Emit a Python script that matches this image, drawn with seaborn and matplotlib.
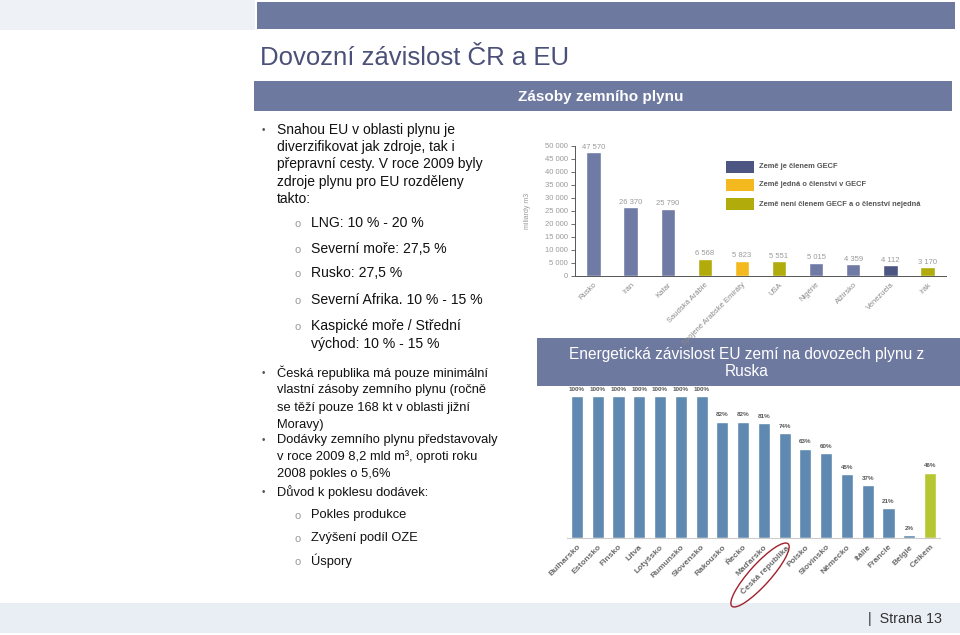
import matplotlib
matplotlib.use("Agg")
import matplotlib.pyplot as plt
from matplotlib.patches import Rectangle, Ellipse
import seaborn as sns
import pandas as pd

# ---------------- data ----------------
reserve_countries = ["Rusko", "Irán", "Katar", "Saudská Arábie", "Spojené Arabské Emiráty",
                     "USA", "Nigérie", "Alžírsko", "Venezuela", "Irák"]
reserve_values = [47570, 26370, 25790, 6568, 5823, 5551, 5015, 4359, 4112, 3170]
reserve_status = ["member", "member", "member", "no", "negotiating",
                  "no", "member", "member", "member_dark", "no"]
reserve_yticks = [0, 5000, 10000, 15000, 20000, 25000, 30000, 35000, 40000, 45000, 50000]
legend_labels = ["Země je členem GECF", "Země jedná o členství v GECF",
                 "Země není členem GECF a o členství nejedná"]

dep_countries = ["Bulharsko", "Estonsko", "Finsko", "Litva", "Lotyšsko", "Rumunsko",
                 "Slovensko", "Rakousko", "Řecko", "Maďarsko", "Česká republika",
                 "Polsko", "Slovinsko", "Německo", "Itálie", "Francie", "Belgie", "Celkem"]
dep_values = [100, 100, 100, 100, 100, 100, 100, 82, 82, 81, 74, 63, 60, 45, 37, 21, 2, 46]

# ---------------- style ----------------
sns.set_style("white")
plt.rcParams['font.family'] = ['Liberation Sans', 'DejaVu Sans']

W, H = 960, 635
fig = plt.figure(figsize=(W / 100, H / 100), dpi=100)

SLATE = "#6e799f"
status_colors = {"member": "#6f7ba5", "member_dark": "#4d5682",
                 "negotiating": "#f5b920", "no": "#b2ab0c"}

def ax_rect(x0, x1, y_top, y_bot):
    return [x0 / W, 1 - y_bot / H, (x1 - x0) / W, (y_bot - y_top) / H]

# background overlay (pixel coordinates)
bg = fig.add_axes([0, 0, 1, 1], zorder=0)
bg.set_xlim(0, W); bg.set_ylim(H, 0); bg.axis("off")

bg.add_patch(Rectangle((0, 0), 255, 30, color="#eef2f7", lw=0))
bg.add_patch(Rectangle((257, 2), 698, 27, color=SLATE, lw=0))
bg.add_patch(Rectangle((0, 603), 960, 30, color="#e9eef4", lw=0))
bg.text(868, 619, "|  Strana 13", fontsize=10.3, color="#333333", va="center", ha="left")

bg.text(260, 58, "Dovozní závislost ČR a EU", fontsize=18.5, color="#4a5078",
        va="center", ha="left")

bg.add_patch(Rectangle((254, 81), 698, 30, color=SLATE, lw=0))
bg.text(601, 97, "Zásoby zemního plynu", fontsize=11, color="white", weight="bold",
        va="center", ha="center")

bg.add_patch(Rectangle((537, 338), 423, 48, color=SLATE, lw=0))
bg.text(747, 363, "Energetická závislost EU zemí na dovozech plynu z\nRuska", fontsize=11.2,
        color="white", va="center", ha="center", linespacing=1.2)

# left text
TXT = "#111111"
main1 = [(130, "Snahou EU v oblasti plynu je"), (147, "diverzifikovat jak zdroje, tak i"),
         (164, "přepravní cesty. V roce 2009 byly"), (182, "zdroje plynu pro EU rozděleny"),
         (199, "takto:")]
sub1 = [(223, "LNG: 10 % - 20 %"), (249, "Severní moře: 27,5 %"), (273, "Rusko: 27,5 %"),
        (300, "Severní Afrika. 10 % - 15 %"), (326, "Kaspické moře / Střední"),
        (344, "východ: 10 % - 15 %")]
main2 = [(373, "Česká republika má pouze minimální"), (390, "vlastní zásoby zemního plynu (ročně"),
         (408, "se těží pouze 168 kt v oblasti jižní"), (425, "Moravy)"),
         (440, "Dodávky zemního plynu představovaly"), (457, "v roce 2009 8,2 mld m³, oproti roku"),
         (474, "2008 pokles o 5,6%"), (492, "Důvod k poklesu dodávek:")]
sub2 = [(515, "Pokles produkce"), (538, "Zvýšení podíl OZE"), (561, "Úspory")]
bullet_first = [130, 373, 440, 492]
sub_first = [223, 249, 273, 300, 326, 515, 538, 561]

for y, t in main1:
    bg.text(277, y, t, fontsize=10, color=TXT, va="center", ha="left")
for y, t in sub1:
    bg.text(311, y, t, fontsize=10.1, color=TXT, va="center", ha="left")
for y, t in main2:
    bg.text(277, y, t, fontsize=9.3, color=TXT, va="center", ha="left")
for y, t in sub2:
    bg.text(311, y, t, fontsize=9.3, color=TXT, va="center", ha="left")
for y in bullet_first:
    bg.text(263, y, "•", fontsize=7, color="#555555", va="center", ha="center")
for y in sub_first:
    bg.text(298, y + 1, "o", fontsize=8, color="#999999", va="center", ha="center")

# ---------------- top chart: reserves ----------------
ax1 = fig.add_axes(ax_rect(575, 946, 145.7, 275.7), zorder=2)
ax1.patch.set_alpha(0)
df1 = pd.DataFrame({"country": reserve_countries, "value": reserve_values,
                    "status": reserve_status})
sns.barplot(data=df1, x="country", y="value", hue="status", palette=status_colors,
            dodge=False, width=0.39, legend=False, ax=ax1, saturation=1)
ax1.set_xlim(-0.5, len(reserve_countries) - 0.5)
ax1.set_ylim(0, 50000)
ax1.set_yticks(reserve_yticks)
ax1.set_yticklabels([f"{v:,}".replace(",", " ") for v in reserve_yticks])
ax1.tick_params(axis="y", labelsize=5.5, labelcolor="#9a9a9a", length=3, width=0.6,
                color="#555555", pad=2, left=True)
ax1.tick_params(axis="x", labelsize=5.5, labelcolor="#8a8a8a", length=0, pad=4)
ax1.set_xticks(range(len(reserve_countries)))
ax1.set_xticklabels(reserve_countries, rotation=45, ha="right", rotation_mode="anchor")
for s in ["top", "right"]:
    ax1.spines[s].set_visible(False)
for s in ["left", "bottom"]:
    ax1.spines[s].set_color("#555555")
    ax1.spines[s].set_linewidth(0.7)
ax1.set_xlabel("")
ax1.set_ylabel("miliardy m3", fontsize=5, color="#9a9a9a", labelpad=10)
for i, v in enumerate(reserve_values):
    ax1.text(i, v + 500, f"{v:,}".replace(",", " "), fontsize=5.5, color="#9a9a9a",
             ha="center", va="bottom")

# legend
leg_items = [("member_dark", legend_labels[0], 166.7), ("negotiating", legend_labels[1], 185),
             ("no", legend_labels[2], 204)]
for key, lab, yc in leg_items:
    bg.add_patch(Rectangle((725.7, yc - 6), 28.6, 12, color=status_colors[key], lw=0))
    bg.text(759, yc, lab, fontsize=5.4, color="#555555", weight="bold", va="center",
            ha="left")

# ---------------- bottom chart: dependence ----------------
ax2 = fig.add_axes(ax_rect(566.6, 940.4, 538 - 142 * 1.1, 538), zorder=2)
ax2.patch.set_alpha(0)
dep_colors = ["#5f89b0"] * (len(dep_countries) - 1) + ["#b7c633"]
sns.barplot(x=dep_countries, y=dep_values, hue=dep_countries, palette=dep_colors,
            width=0.58, legend=False, ax=ax2, saturation=1)
ax2.set_xlim(-0.5, len(dep_countries) - 0.5)
ax2.set_ylim(0, 110)
ax2.set_yticks([])
for s in ["top", "right", "left"]:
    ax2.spines[s].set_visible(False)
ax2.spines["bottom"].set_color("#cccccc")
ax2.spines["bottom"].set_linewidth(0.8)
ax2.set_xticks(range(len(dep_countries)))
ax2.set_xticklabels(dep_countries, rotation=45, ha="right", rotation_mode="anchor")
ax2.tick_params(axis="x", labelsize=6, labelcolor="#6a6a6a", length=0, pad=4)
for lbl in ax2.get_xticklabels():
    lbl.set_fontweight("bold")
for i, v in enumerate(dep_values):
    ax2.text(i, v + 3, f"{v}%", fontsize=4.5, color="#555555", weight="bold",
             ha="center", va="bottom")
ax2.set_xlabel(""); ax2.set_ylabel("")

# foreground overlay for the red ellipse
fg = fig.add_axes([0, 0, 1, 1], zorder=10)
fg.set_xlim(0, W); fg.set_ylim(H, 0); fg.axis("off"); fg.patch.set_alpha(0)
fg.add_patch(Ellipse((760, 575), 84, 21, angle=-48, fill=False, edgecolor="#a31f2b", lw=1))

fig.savefig("out.png", dpi=100)
